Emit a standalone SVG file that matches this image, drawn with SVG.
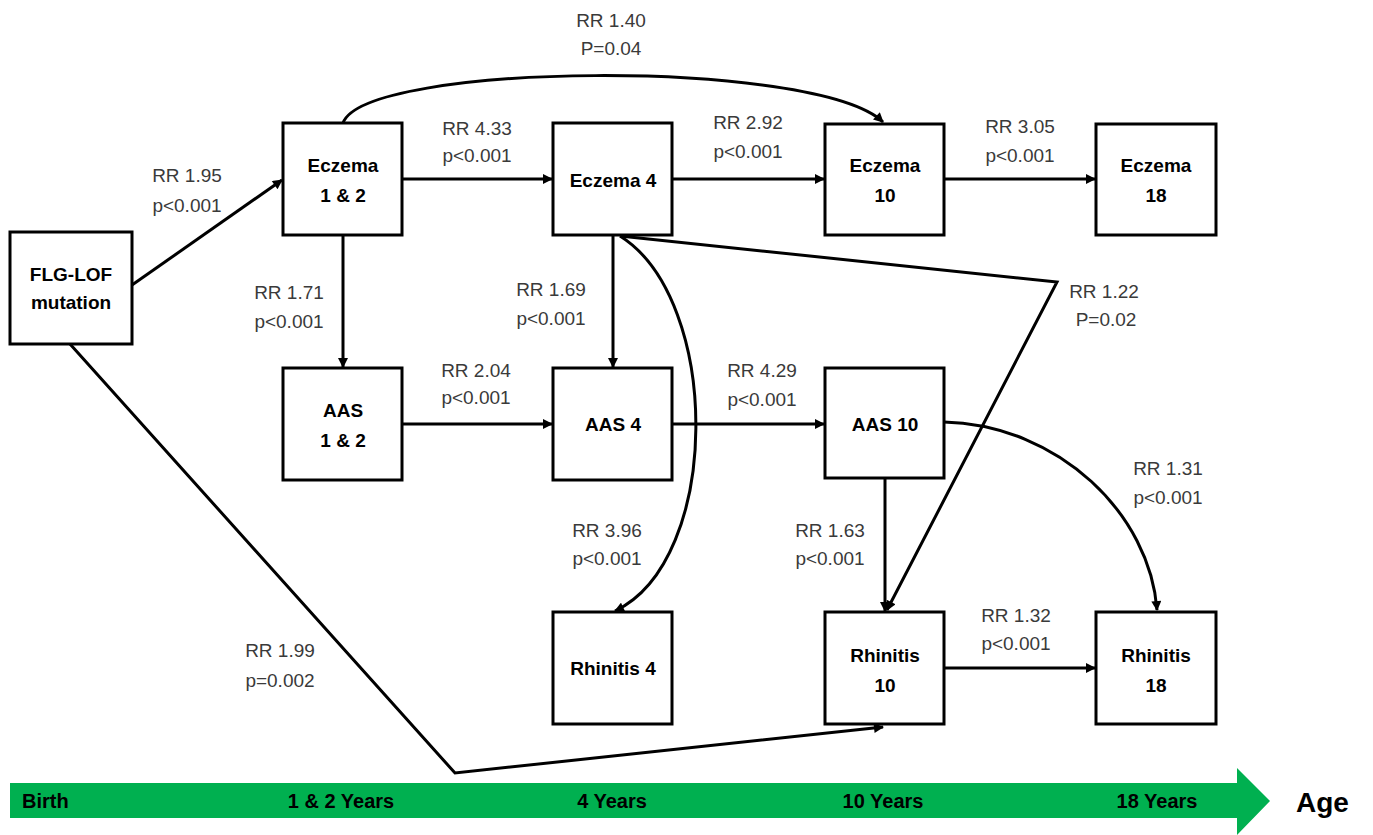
<svg xmlns="http://www.w3.org/2000/svg" width="1373" height="835" viewBox="0 0 1373 835">
<style>
.box{fill:#fff;stroke:#000;stroke-width:3}
.bt{font-family:"Liberation Sans",Arial,sans-serif;font-weight:bold;font-size:19px;fill:#000;text-anchor:middle}
.lb{font-family:"Liberation Sans",Arial,sans-serif;font-size:19px;fill:#3a3a3a;text-anchor:middle}
.ax{font-family:"Liberation Sans",Arial,sans-serif;font-weight:bold;font-size:20px;fill:#000}
.c{fill:none;stroke:#000;stroke-width:3}
</style>
<defs>
<marker id="ah" viewBox="0 0 10 10" refX="9" refY="5" markerWidth="11" markerHeight="10" markerUnits="userSpaceOnUse" orient="auto">
<path d="M0,0 L10,5 L0,10 z" fill="#000"/>
</marker>
</defs>
<rect width="1373" height="835" fill="#fff"/>

<g id="timeline">
<path d="M10,783 L1237,783 L1237,768 L1270,801 L1237,835 L1237,818 L10,818 z" fill="#00b050"/>
<text class="ax" x="22" y="808">Birth</text>
<text class="ax" x="341" y="808" text-anchor="middle">1 &amp; 2 Years</text>
<text class="ax" x="612" y="808" text-anchor="middle">4 Years</text>
<text class="ax" x="883" y="808" text-anchor="middle">10 Years</text>
<text class="ax" x="1157" y="808" text-anchor="middle">18 Years</text>
<text class="ax" x="1296" y="812" style="font-size:28px">Age</text>
</g>

<g id="connectors">
<line class="c" x1="132" y1="285" x2="282" y2="180" marker-end="url(#ah)"/>
<line class="c" x1="402" y1="179" x2="552" y2="179" marker-end="url(#ah)"/>
<line class="c" x1="672" y1="179" x2="824" y2="179" marker-end="url(#ah)"/>
<line class="c" x1="944" y1="179" x2="1095" y2="179" marker-end="url(#ah)"/>
<line class="c" x1="343" y1="235" x2="343" y2="367" marker-end="url(#ah)"/>
<line class="c" x1="613" y1="235" x2="613" y2="367" marker-end="url(#ah)"/>
<line class="c" x1="402" y1="424" x2="552" y2="424" marker-end="url(#ah)"/>
<line class="c" x1="672" y1="424" x2="824" y2="424" marker-end="url(#ah)"/>
<line class="c" x1="885" y1="478" x2="885" y2="611" marker-end="url(#ah)"/>
<line class="c" x1="944" y1="668" x2="1095" y2="668" marker-end="url(#ah)"/>
<path class="c" d="M343,123 C365,62 815,58 883,122" marker-end="url(#ah)"/>
<path class="c" d="M620,236 C722,300 722,560 615,611" marker-end="url(#ah)"/>
<path class="c" d="M620,236 L1057,282 L887,610" marker-end="url(#ah)"/>
<path class="c" d="M944,422 C1060,425 1150,515 1157,610" marker-end="url(#ah)"/>
<path class="c" d="M70,344 L455,773 L883,727" marker-end="url(#ah)"/>
</g>

<g id="labels">
<text class="lb" x="611" y="27">RR 1.40</text><text class="lb" x="611" y="55">P=0.04</text>
<text class="lb" x="477" y="135">RR 4.33</text><text class="lb" x="477" y="162">p&lt;0.001</text>
<text class="lb" x="748" y="129">RR 2.92</text><text class="lb" x="748" y="158">p&lt;0.001</text>
<text class="lb" x="1020" y="133">RR 3.05</text><text class="lb" x="1020" y="162">p&lt;0.001</text>
<text class="lb" x="187" y="182">RR 1.95</text><text class="lb" x="187" y="212">p&lt;0.001</text>
<text class="lb" x="289" y="299">RR 1.71</text><text class="lb" x="289" y="328">p&lt;0.001</text>
<text class="lb" x="551" y="296">RR 1.69</text><text class="lb" x="551" y="325">p&lt;0.001</text>
<text class="lb" x="1104" y="298">RR 1.22</text><text class="lb" x="1106" y="326">P=0.02</text>
<text class="lb" x="476" y="377">RR 2.04</text><text class="lb" x="476" y="404">p&lt;0.001</text>
<text class="lb" x="762" y="377">RR 4.29</text><text class="lb" x="762" y="406">p&lt;0.001</text>
<text class="lb" x="1168" y="475">RR 1.31</text><text class="lb" x="1168" y="504">p&lt;0.001</text>
<text class="lb" x="607" y="537">RR 3.96</text><text class="lb" x="607" y="565">p&lt;0.001</text>
<text class="lb" x="830" y="537">RR 1.63</text><text class="lb" x="830" y="565">p&lt;0.001</text>
<text class="lb" x="1016" y="622">RR 1.32</text><text class="lb" x="1016" y="650">p&lt;0.001</text>
<text class="lb" x="280" y="657">RR 1.99</text><text class="lb" x="280" y="687">p=0.002</text>
</g>

<g id="flg"><rect class="box" x="10" y="232" width="122" height="112"/><text class="bt" x="71" y="281">FLG-LOF</text><text class="bt" x="71" y="309">mutation</text></g>
<g id="eczema12"><rect class="box" x="283" y="123" width="119" height="112"/><text class="bt" x="343" y="172">Eczema</text><text class="bt" x="343" y="202">1 &amp; 2</text></g>
<g id="eczema4"><rect class="box" x="553" y="123" width="119" height="112"/><text class="bt" x="613" y="187">Eczema 4</text></g>
<g id="eczema10"><rect class="box" x="825" y="124" width="119" height="111"/><text class="bt" x="885" y="172">Eczema</text><text class="bt" x="885" y="202">10</text></g>
<g id="eczema18"><rect class="box" x="1096" y="124" width="120" height="111"/><text class="bt" x="1156" y="172">Eczema</text><text class="bt" x="1156" y="202">18</text></g>
<g id="aas12"><rect class="box" x="283" y="368" width="119" height="112"/><text class="bt" x="343" y="417">AAS</text><text class="bt" x="343" y="447">1 &amp; 2</text></g>
<g id="aas4"><rect class="box" x="553" y="368" width="119" height="112"/><text class="bt" x="613" y="431">AAS 4</text></g>
<g id="aas10"><rect class="box" x="825" y="368" width="119" height="110"/><text class="bt" x="885" y="431">AAS 10</text></g>
<g id="rhinitis4"><rect class="box" x="553" y="612" width="119" height="112"/><text class="bt" x="613" y="675">Rhinitis 4</text></g>
<g id="rhinitis10"><rect class="box" x="825" y="612" width="119" height="112"/><text class="bt" x="885" y="662">Rhinitis</text><text class="bt" x="885" y="692">10</text></g>
<g id="rhinitis18"><rect class="box" x="1096" y="612" width="120" height="112"/><text class="bt" x="1156" y="662">Rhinitis</text><text class="bt" x="1156" y="692">18</text></g>
</svg>
